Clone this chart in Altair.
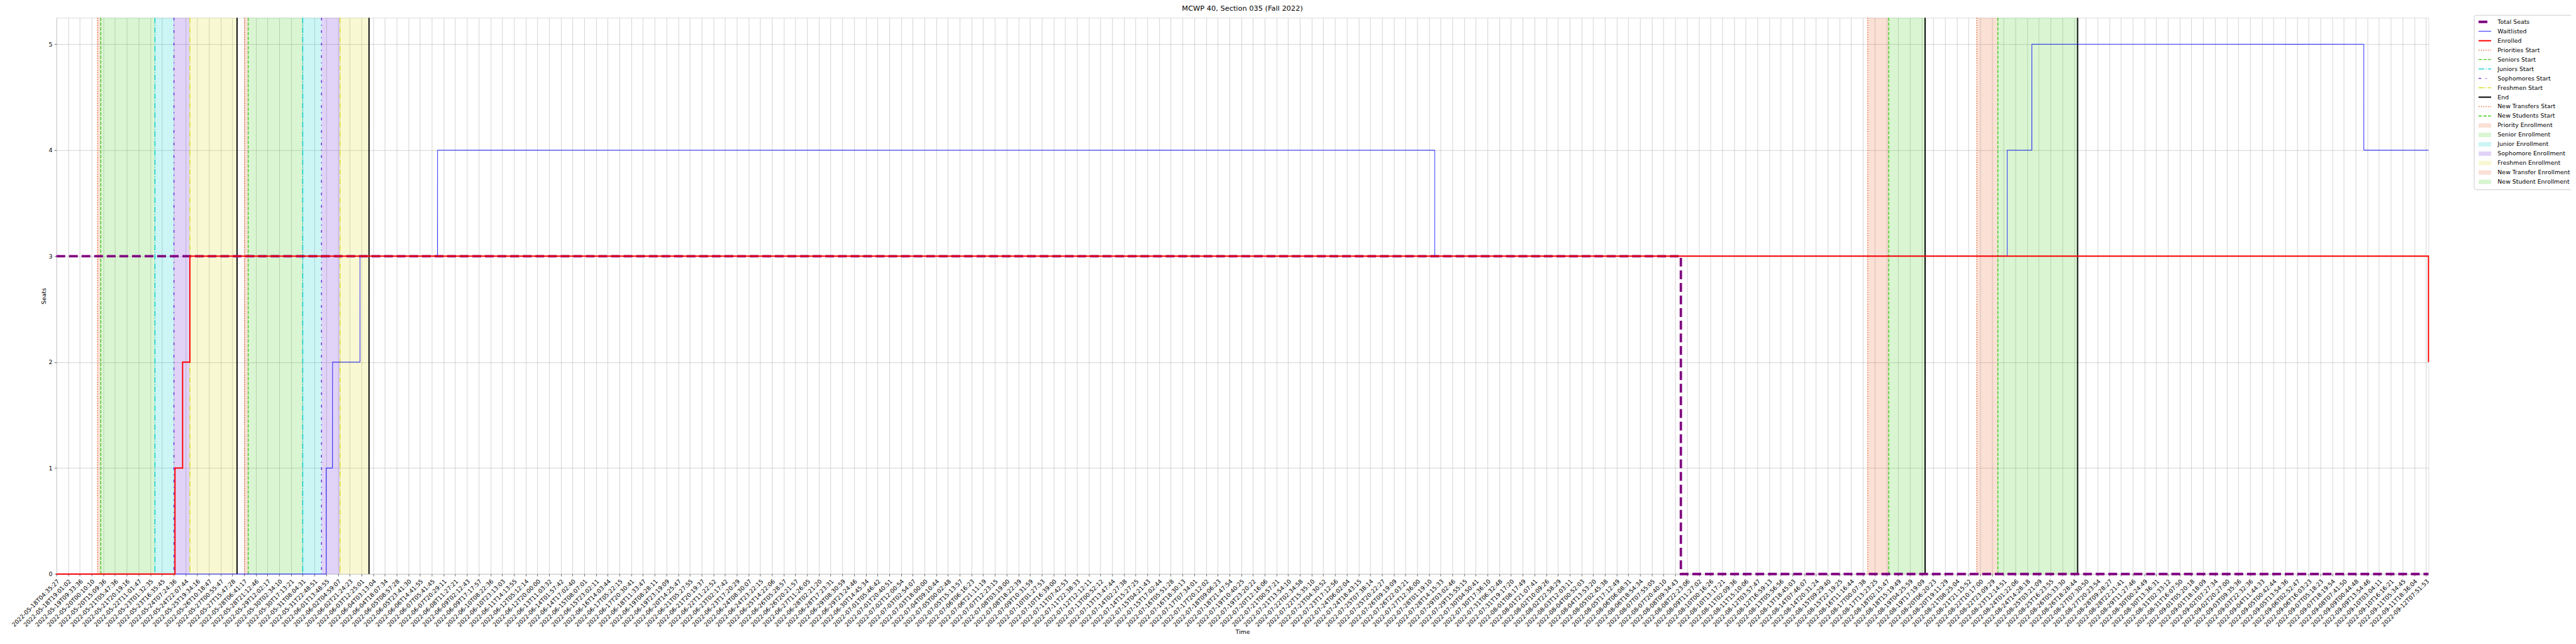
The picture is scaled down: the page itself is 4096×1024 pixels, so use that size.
import json
import altair as alt
import pandas as pd

# ---------------- data ----------------
tick_labels = [
    "2022-05-18T04:35:27", "2022-05-18T19:01:02", "2022-05-19T09:33:36", "2022-05-20T00:10:10",
    "2022-05-20T15:09:36", "2022-05-21T05:47:36", "2022-05-21T20:19:16", "2022-05-22T11:01:47",
    "2022-05-23T01:32:35", "2022-05-23T16:35:45", "2022-05-24T07:24:36", "2022-05-24T22:07:44",
    "2022-05-25T19:34:16", "2022-05-26T10:18:47", "2022-05-27T00:55:47", "2022-05-27T15:47:28",
    "2022-05-28T06:41:17", "2022-05-28T21:12:46", "2022-05-29T12:02:17", "2022-05-30T02:34:10",
    "2022-05-30T17:13:21", "2022-05-31T08:04:31", "2022-05-31T22:48:51", "2022-06-01T13:48:55",
    "2022-06-02T04:59:07", "2022-06-02T21:24:23", "2022-06-03T12:25:01", "2022-06-04T03:13:04",
    "2022-06-04T18:07:34", "2022-06-05T08:57:28", "2022-06-05T23:41:30", "2022-06-06T14:41:55",
    "2022-06-07T05:41:45", "2022-06-07T20:29:11", "2022-06-08T11:27:21", "2022-06-09T02:12:43",
    "2022-06-09T17:17:57", "2022-06-10T08:22:36", "2022-06-10T23:13:03", "2022-06-11T14:13:55",
    "2022-06-12T05:12:14", "2022-06-12T20:00:00", "2022-06-13T11:03:32", "2022-06-14T01:57:42",
    "2022-06-14T17:02:40", "2022-06-15T08:07:01", "2022-06-15T23:02:11", "2022-06-16T14:03:44",
    "2022-06-17T05:22:15", "2022-06-17T20:30:41", "2022-06-18T11:33:47", "2022-06-19T08:28:11",
    "2022-06-19T23:19:09", "2022-06-20T14:25:47", "2022-06-21T05:27:55", "2022-06-21T20:19:37",
    "2022-06-22T11:22:52", "2022-06-23T02:17:42", "2022-06-23T17:20:29", "2022-06-24T08:30:07",
    "2022-06-24T23:22:15", "2022-06-25T14:22:06", "2022-06-26T05:28:57", "2022-06-26T20:21:57",
    "2022-06-27T11:26:05", "2022-06-28T02:21:20", "2022-06-28T17:23:31", "2022-06-29T08:30:59",
    "2022-06-29T23:24:46", "2022-06-30T14:45:34", "2022-07-01T05:46:42", "2022-07-01T20:40:51",
    "2022-07-02T12:00:54", "2022-07-03T02:54:07", "2022-07-03T18:00:00", "2022-07-04T09:10:44",
    "2022-07-05T00:02:48", "2022-07-05T15:13:57", "2022-07-06T06:16:23", "2022-07-06T21:11:19",
    "2022-07-07T12:23:15", "2022-07-08T03:19:00", "2022-07-08T18:22:39", "2022-07-09T10:31:59",
    "2022-07-10T01:27:53", "2022-07-10T16:39:00", "2022-07-11T07:42:53", "2022-07-11T22:38:33",
    "2022-07-12T12:12:11", "2022-07-13T00:52:12", "2022-07-13T13:47:44", "2022-07-14T02:27:38",
    "2022-07-14T15:27:25", "2022-07-15T04:21:43", "2022-07-15T17:02:44", "2022-07-16T05:51:28",
    "2022-07-16T18:30:13", "2022-07-17T07:34:01", "2022-07-17T20:12:02", "2022-07-18T09:06:23",
    "2022-07-18T21:47:54", "2022-07-19T10:40:25", "2022-07-19T23:20:22", "2022-07-20T12:16:06",
    "2022-07-21T00:57:21", "2022-07-21T13:54:10", "2022-07-22T02:34:58", "2022-07-22T15:35:10",
    "2022-07-23T04:30:52", "2022-07-23T17:12:56", "2022-07-24T06:02:04", "2022-07-24T18:43:15",
    "2022-07-25T07:38:14", "2022-07-25T20:22:27", "2022-07-26T09:19:09", "2022-07-26T22:03:21",
    "2022-07-27T12:36:00", "2022-07-28T01:19:10", "2022-07-28T14:15:33", "2022-07-29T03:02:46",
    "2022-07-29T15:55:15", "2022-07-30T04:50:41", "2022-07-30T17:36:10", "2022-07-31T06:32:48",
    "2022-07-31T19:17:20", "2022-08-01T08:17:49", "2022-08-01T21:07:41", "2022-08-02T10:09:26",
    "2022-08-02T22:58:29", "2022-08-03T12:03:11", "2022-08-04T00:52:03", "2022-08-04T13:53:20",
    "2022-08-05T02:45:38", "2022-08-05T17:12:49", "2022-08-06T06:08:31", "2022-08-06T18:54:34",
    "2022-08-07T07:55:05", "2022-08-07T20:40:10", "2022-08-08T09:34:43", "2022-08-08T22:23:06",
    "2022-08-09T11:27:02", "2022-08-10T00:16:26", "2022-08-10T13:17:21", "2022-08-11T02:09:36",
    "2022-08-11T15:10:06", "2022-08-12T03:57:47", "2022-08-12T16:59:13", "2022-08-13T05:56:56",
    "2022-08-13T18:45:03", "2022-08-14T07:46:07", "2022-08-14T20:31:24", "2022-08-15T09:29:40",
    "2022-08-15T22:19:25", "2022-08-16T11:16:44", "2022-08-17T00:07:38", "2022-08-17T13:23:25",
    "2022-08-18T02:15:47", "2022-08-18T15:19:49", "2022-08-19T04:25:59", "2022-08-19T17:19:09",
    "2022-08-20T06:20:23", "2022-08-20T19:11:29", "2022-08-21T08:25:04", "2022-08-21T21:15:52",
    "2022-08-22T10:17:00", "2022-08-22T23:09:29", "2022-08-23T12:14:51", "2022-08-24T01:22:06",
    "2022-08-24T14:28:18", "2022-08-25T03:21:09", "2022-08-25T16:23:55", "2022-08-26T05:33:30",
    "2022-08-26T18:28:44", "2022-08-27T07:30:50", "2022-08-27T20:23:54", "2022-08-28T09:28:27",
    "2022-08-28T22:21:41", "2022-08-29T11:27:46", "2022-08-30T00:24:49", "2022-08-30T13:36:31",
    "2022-08-31T02:33:12", "2022-08-31T16:07:50", "2022-09-01T05:20:18", "2022-09-01T18:18:09",
    "2022-09-02T07:27:34", "2022-09-02T20:27:00", "2022-09-03T09:35:36", "2022-09-03T22:32:36",
    "2022-09-04T11:44:33", "2022-09-05T00:42:44", "2022-09-05T13:54:36", "2022-09-06T02:52:47",
    "2022-09-06T16:03:23", "2022-09-07T05:18:23", "2022-09-07T18:19:54", "2022-09-08T07:41:50",
    "2022-09-09T00:44:48", "2022-09-09T13:54:46", "2022-09-10T03:04:11", "2022-09-10T16:16:21",
    "2022-09-11T05:34:45", "2022-09-11T18:36:04", "2022-09-12T07:51:53",
]
x_end = 202.21  # last sample position (in tick-index units)

# step series: positions (tick-index units) where the value changes
total_x = [0, 138.48, x_end]
total_y = [3, 0, 0]
wait_x = [0, 23.0, 23.54, 25.88, 32.49, 117.5, 166.3, 168.4, 196.7, x_end]
wait_y = [0, 1, 2, 3, 4, 3, 4, 5, 4, 4]
enr_x = [0, 10.11, 10.76, 11.38, x_end]
enr_y = [0, 1, 2, 3, 2]

# enrollment-period markers (tick-index units)
priorities_start = [3.50, 16.04]
seniors_start = [3.78, 16.35]
juniors_start = [8.40, 21.00]
sophomores_start = [10.02, 22.60]
freshmen_start = [11.38, 24.18]
end_marks = [15.40, 26.65, 159.3, 172.3]
new_transfers_start = [154.4, 163.7]
new_students_start = [156.2, 165.5]

title = "MCWP 40, Section 035 (Fall 2022)"

# ---------------- styles ----------------
S = 0.682
C_PRIO = "#E8642C"
C_SEN = "#3FCC1F"
C_JUN = "#00CCCC"
C_SOPH = "#6A22D8"
C_FRESH = "#DDDD22"


def pastel(hexc, a=0.2):
    r, g, b = (int(hexc[i:i + 2], 16) for i in (1, 3, 5))
    f = lambda c: round(255 * (1 - a) + c * a)
    return "#%02X%02X%02X" % (f(r), f(g), f(b))


lw_unit = 1.389 * S  # one matplotlib point in page px
vl = 1.5 * lw_unit
dotted = [1.0 * vl, 1.65 * vl]
dashed = [3.7 * vl, 1.6 * vl]
dashdot = [6.4 * vl, 1.6 * vl, 1.0 * vl, 1.6 * vl]
dashdot_sparse = [3 * vl, 5 * vl, 1 * vl, 5 * vl]
solid = [1, 0]

legend_items = [
    ("Total Seats", "purple", 4.0 * lw_unit, [3.7 * 4 * lw_unit, 1.6 * 4 * lw_unit]),
    ("Waitlisted", "#0000FF", 1.0 * lw_unit, solid),
    ("Enrolled", "#FF0000", 2.0 * lw_unit, solid),
    ("Priorities Start", C_PRIO, vl, dotted),
    ("Seniors Start", C_SEN, vl, dashed),
    ("Juniors Start", C_JUN, vl, dashdot),
    ("Sophomores Start", C_SOPH, vl, dashdot_sparse),
    ("Freshmen Start", C_FRESH, vl, dashdot),
    ("End", "black", 2.0 * lw_unit, solid),
    ("New Transfers Start", C_PRIO, vl, dotted),
    ("New Students Start", C_SEN, vl, dashed),
    ("Priority Enrollment", pastel(C_PRIO), 7.0, solid),
    ("Senior Enrollment", pastel(C_SEN), 7.0, solid),
    ("Junior Enrollment", pastel(C_JUN), 7.0, solid),
    ("Sophomore Enrollment", pastel(C_SOPH), 7.0, solid),
    ("Freshmen Enrollment", pastel(C_FRESH), 7.0, solid),
    ("New Transfer Enrollment", pastel(C_PRIO), 7.0, solid),
    ("New Student Enrollment", pastel(C_SEN), 7.0, solid),
]
names = [n for n, _, _, _ in legend_items]
colors = [c for _, c, _, _ in legend_items]
widths = [w for _, _, w, _ in legend_items]
dashes = [d for _, _, _, d in legend_items]

band_names = ["Priority Enrollment", "Senior Enrollment", "Junior Enrollment",
              "Sophomore Enrollment", "Freshmen Enrollment",
              "New Transfer Enrollment", "New Student Enrollment"]
band_colors = [C_PRIO, C_SEN, C_JUN, C_SOPH, C_FRESH, C_PRIO, C_SEN]

# ---------------- tables ----------------
steps = pd.concat([
    pd.DataFrame({"x": total_x, "y": total_y, "series": "Total Seats"}),
    pd.DataFrame({"x": wait_x, "y": wait_y, "series": "Waitlisted"}),
    pd.DataFrame({"x": enr_x, "y": enr_y, "series": "Enrolled"}),
], ignore_index=True)

vrows = []
for nm, xs in [("Priorities Start", priorities_start), ("Seniors Start", seniors_start),
               ("Juniors Start", juniors_start), ("Sophomores Start", sophomores_start),
               ("Freshmen Start", freshmen_start), ("End", end_marks),
               ("New Transfers Start", new_transfers_start),
               ("New Students Start", new_students_start)]:
    for v in xs:
        vrows.append({"x": v, "series": nm})
vlines = pd.DataFrame(vrows)

brows = []
for nm, a, b in [("Priority Enrollment", priorities_start, seniors_start),
                 ("Senior Enrollment", seniors_start, juniors_start),
                 ("Junior Enrollment", juniors_start, sophomores_start),
                 ("Sophomore Enrollment", sophomores_start, freshmen_start),
                 ("Freshmen Enrollment", freshmen_start, end_marks[:2]),
                 ("New Transfer Enrollment", new_transfers_start, new_students_start),
                 ("New Student Enrollment", new_students_start, end_marks[2:])]:
    for x0, x1 in zip(a, b):
        brows.append({"x": x0, "x2": x1, "band": nm})
bands = pd.DataFrame(brows)

# ---------------- layout ----------------
pad_left = S * 131.7 - 8
pad_top = S * 40 - 8
plot_w = S * (5673 - 131.7)
plot_h = S * (1339.5 - 40)
pad_right = 4088 - pad_left - plot_w
pad_bottom = 1008 - pad_top - plot_h

FONT = "DejaVu Sans"
FS = 9.4

label_expr = json.dumps(tick_labels) + "[datum.value]"

x_scale = alt.Scale(domain=[0, x_end], nice=False, zero=False)
y_scale = alt.Scale(domain=[0, 5.25], nice=False)

x_axis = alt.Axis(values=list(range(len(tick_labels))), labelExpr=label_expr,
                  labelAngle=-45, labelAlign="right", labelBaseline="top",
                  labelFontSize=FS, labelFont=FONT, labelColor="black",
                  labelOverlap=False, labelBound=False, labelFlush=False,
                  labelPadding=3.5, tickSize=3.3, tickColor="black", tickWidth=0.6,
                  grid=True, gridColor="#b0b0b0", gridWidth=0.55,
                  domain=False, title="Time", titleFont=FONT, titleFontSize=FS,
                  titleFontWeight="normal", titleColor="black",
                  titleY=92, titleBaseline="middle")
y_axis = alt.Axis(values=[0, 1, 2, 3, 4, 5], format="d",
                  labelFontSize=FS, labelFont=FONT, labelColor="black",
                  labelPadding=3.3, tickSize=3.3, tickColor="black", tickWidth=0.6,
                  grid=True, gridColor="#b0b0b0", gridWidth=0.55,
                  domain=False, title="Seats", titleFont=FONT, titleFontSize=FS,
                  titleFontWeight="normal", titleColor="black",
                  titleX=-20, titleY=plot_h / 2, titleAngle=-90,
                  titleAlign="center", titleBaseline="middle")

legend = alt.Legend(title=None, orient="none", legendX=3851.5, legendY=-4.5,
                    symbolType="stroke", symbolSize=400, clipHeight=14.1, rowPadding=0,
                    labelFont=FONT, labelFontSize=FS, labelColor="black", labelOffset=6.8,
                    labelLimit=400, padding=4, strokeColor="#cccccc", fillColor="white",
                    cornerRadius=2.7, symbolOpacity=1)

color_enc = alt.Color("series:N", scale=alt.Scale(domain=names, range=colors), legend=legend)
dash_enc = alt.StrokeDash("series:N", scale=alt.Scale(domain=names, range=dashes), legend=legend)
width_enc = alt.StrokeWidth("series:N", scale=alt.Scale(type="ordinal", domain=names, range=widths),
                            legend=legend)

band_layer = alt.Chart(bands).mark_rect(fillOpacity=0.2, strokeWidth=0).encode(
    x=alt.X("x:Q", scale=x_scale, axis=x_axis),
    x2="x2:Q",
    fill=alt.Fill("band:N", scale=alt.Scale(domain=band_names, range=band_colors), legend=None),
)

vline_layer = alt.Chart(vlines).mark_rule().encode(
    x=alt.X("x:Q", scale=x_scale, axis=x_axis),
    color=color_enc, strokeDash=dash_enc, strokeWidth=width_enc,
)

step_layer = alt.Chart(steps).mark_line(interpolate="step-after", strokeCap="butt").encode(
    x=alt.X("x:Q", scale=x_scale, axis=x_axis),
    y=alt.Y("y:Q", scale=y_scale, axis=y_axis),
    color=color_enc, strokeDash=dash_enc, strokeWidth=width_enc,
    detail="series:N",
    order=alt.Order("x:Q"),
)

# draw Total Seats, then Waitlisted, then Enrolled (in that stacking order)
step_layers = [step_layer.transform_filter(alt.datum.series == nm)
               for nm in ["Total Seats", "Waitlisted", "Enrolled"]]

chart = alt.layer(band_layer, vline_layer, *step_layers).properties(
    width=plot_w, height=plot_h,
    title=alt.TitleParams(title, font=FONT, fontSize=11.4, fontWeight="normal",
                          color="black", anchor="middle", offset=3.5, frame="group"),
    autosize=alt.AutoSizeParams(type="none"),
    padding={"left": pad_left, "top": pad_top, "right": pad_right, "bottom": pad_bottom},
).configure_view(stroke="black", strokeWidth=0.76).configure(background="white")

chart.save("out.html", embed_options={"renderer": "svg", "actions": False})
